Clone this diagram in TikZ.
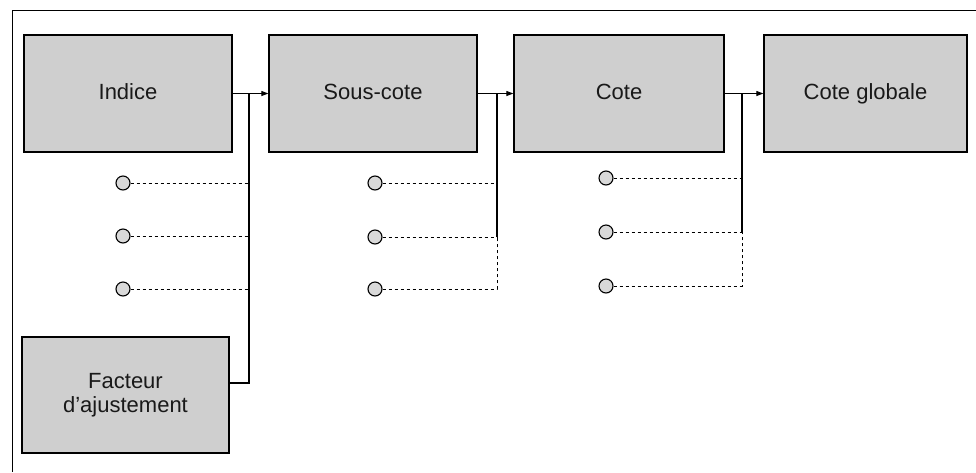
\documentclass[tikz,border=0pt]{standalone}
\usepackage{fontspec}
\setmainfont{Liberation Sans}
\usetikzlibrary{arrows.meta}
\begin{document}
\begin{tikzpicture}[x=1pt,y=-1pt,
  blk/.style={draw=black, line width=1.3pt, fill=gray!38, inner sep=0pt,
    minimum height=117pt, align=center, text=black!90,
    font=\fontsize{22}{25}\selectfont},
  oneline/.style={text height=16pt, text depth=4.5pt},
  dot/.style={circle, draw=black, line width=1.1pt, fill=gray!30,
    minimum size=14pt, inner sep=0pt},
  link/.style={line width=1pt, -{Triangle[length=7pt,width=5pt]}},
  wire/.style={line width=1.1pt},
  dwire/.style={line width=1pt, dash pattern=on 3.5pt off 2.5pt}]
\useasboundingbox (0,0) rectangle (976,472);
% outer frame
\draw[line width=1pt] (976,10) -- (12,10) -- (12,472);

% main chain of boxes
\node[blk, oneline, minimum width=208pt] (indice) at (128,93.5) {Indice};
\node[blk, oneline, minimum width=208pt] (sous) at (373,93.5) {Sous-cote};
\node[blk, oneline, minimum width=210pt] (cote) at (619,93.5) {Cote};
\node[blk, oneline, minimum width=203pt] (glob) at (865.5,93.5) {Cote globale};
\node[blk, minimum width=207pt, minimum height=116pt] (fact) at (125.5,395) {Facteur\\[-1pt]d'ajustement};

\draw[link] (indice) -- (sous);
\draw[link] (sous) -- (cote);
\draw[link] (cote) -- (glob);

% junction points on the links
\coordinate (j1) at (249,93.5);
\coordinate (j2) at (497,93.5);
\coordinate (j3) at (742,93.5);

% inputs of Indice
\node[dot] (a1) at (123,183) {};
\node[dot] (a2) at (123,236) {};
\node[dot] (a3) at (123,289) {};
\coordinate (fk) at (249,383);
\draw[wire] (j1) -- (fk) -- (fk -| fact.east);
\draw[dwire] (a1) -- (a1 -| j1);
\draw[dwire] (a2) -- (a2 -| j1);
\draw[dwire] (a3) -- (a3 -| j1);

% inputs of Sous-cote
\node[dot] (b1) at (375,183) {};
\node[dot] (b2) at (375,237) {};
\node[dot] (b3) at (375,289) {};
\draw[wire] (j2) -- (b2 -| j2);
\draw[dwire] (b1) -- (b1 -| j2);
\draw[dwire] (b2) -- (b2 -| j2);
\draw[dwire] (b3) -- (b3 -| j2) -- (b2 -| j2);

% inputs of Cote
\node[dot] (c1) at (606,178) {};
\node[dot] (c2) at (606,232) {};
\node[dot] (c3) at (606,286) {};
\draw[wire] (j3) -- (c2 -| j3);
\draw[dwire] (c1) -- (c1 -| j3);
\draw[dwire] (c2) -- (c2 -| j3);
\draw[dwire] (c3) -- (c3 -| j3) -- (c2 -| j3);
\end{tikzpicture}
\end{document}
